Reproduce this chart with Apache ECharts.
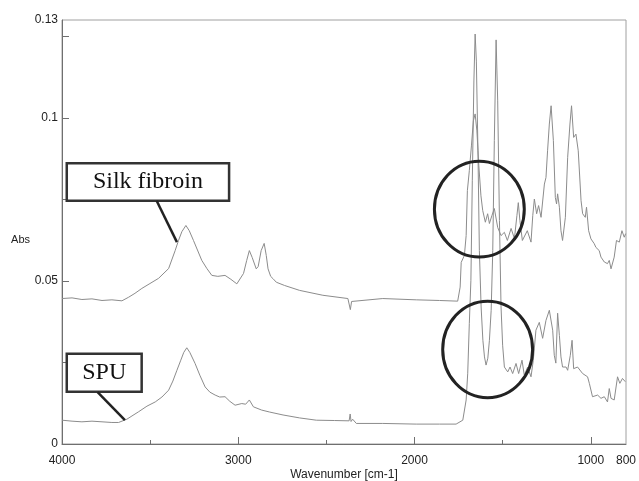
<!DOCTYPE html>
<html>
<head>
<meta charset="utf-8">
<script src="https://cdn.jsdelivr.net/npm/echarts@6/dist/echarts.min.js"></script>
<style>html,body{margin:0;padding:0;background:#fff}#c{width:639px;height:481px}</style>
</head>
<body>
<div id="c"></div>
<script>
// ---- data ----
var silkWn = [4000,3943,3887,3830,3773,3717,3660,3622,3586,3547,3501,3452,3395,3358,3339,3320,3297,3278,3254,3207,3178,3150,3116,3075,3042,3008,2970,2952,2937,2921,2898,2887,2870,2853,2841,2831,2816,2803,2784,2737,2652,2520,2378,2364,2357,2346,2180,1990,1858,1755,1741,1735,1726,1717,1707,1700,1689,1677,1666,1656,1646,1635,1623,1613,1598,1585,1575,1561,1547,1528,1509,1490,1473,1452,1433,1419,1411,1402,1388,1360,1339,1329,1320,1307,1296,1282,1263,1254,1245,1235,1225,1212,1201,1194,1188,1178,1169,1160,1144,1131,1118,1109,1097,1084,1071,1055,1046,1031,1024,1012,999,980,971,952,942,923,905,895,885,867,854,838,823,810,802];
var silkAbs = [0.0446,0.0448,0.0443,0.0445,0.0440,0.0442,0.0439,0.0450,0.0462,0.0477,0.0492,0.0508,0.0538,0.0593,0.0624,0.0651,0.0670,0.0654,0.0624,0.0563,0.0538,0.0517,0.0514,0.0517,0.0505,0.0491,0.0523,0.0563,0.0593,0.0572,0.0537,0.0544,0.0593,0.0615,0.0578,0.0537,0.0514,0.0507,0.0496,0.0486,0.0471,0.0456,0.0446,0.0412,0.0437,0.0443,0.0446,0.0442,0.0440,0.0438,0.0481,0.0557,0.0563,0.0578,0.0639,0.0777,0.0838,0.0914,0.0991,0.1012,0.0960,0.0853,0.0761,0.0716,0.0680,0.0706,0.0676,0.0700,0.0722,0.0664,0.0639,0.0649,0.0624,0.0661,0.0630,0.0700,0.0740,0.0685,0.0624,0.0654,0.0619,0.0700,0.0751,0.0706,0.0731,0.0695,0.0797,0.0817,0.0899,0.0981,0.1037,0.0930,0.0756,0.0736,0.0767,0.0726,0.0654,0.0624,0.0695,0.0879,0.0981,0.1037,0.0940,0.0950,0.0899,0.0746,0.0706,0.0695,0.0726,0.0654,0.0629,0.0614,0.0603,0.0593,0.0573,0.0558,0.0553,0.0563,0.0537,0.0573,0.0624,0.0619,0.0654,0.0634,0.0645];

var spuWn = [4000,3943,3887,3830,3773,3717,3679,3632,3603,3565,3518,3471,3433,3395,3371,3348,3326,3309,3292,3275,3245,3218,3188,3161,3131,3105,3075,3048,3018,2980,2958,2937,2914,2867,2822,2746,2652,2557,2453,2371,2365,2360,2351,2343,2330,2180,1990,1858,1764,1726,1707,1698,1689,1680,1672,1663,1656,1649,1640,1632,1622,1612,1603,1594,1584,1575,1565,1556,1547,1537,1528,1518,1509,1500,1490,1471,1458,1443,1424,1409,1390,1377,1358,1339,1326,1311,1292,1273,1254,1235,1216,1207,1198,1188,1178,1169,1160,1140,1131,1116,1106,1097,1075,1046,1018,1008,990,961,942,923,905,895,885,867,848,835,820,804];
var spuAbs = [0.0073,0.0070,0.0068,0.0070,0.0068,0.0066,0.0066,0.0076,0.0086,0.0099,0.0116,0.0129,0.0144,0.0165,0.0193,0.0226,0.0257,0.0281,0.0295,0.0281,0.0247,0.0211,0.0175,0.0159,0.0150,0.0144,0.0145,0.0131,0.0119,0.0124,0.0122,0.0135,0.0114,0.0104,0.0098,0.0089,0.0080,0.0073,0.0072,0.0071,0.0092,0.0069,0.0076,0.0070,0.0063,0.0063,0.0061,0.0061,0.0061,0.0073,0.0135,0.0217,0.0370,0.0502,0.0807,0.1113,0.1257,0.1174,0.0899,0.0593,0.0420,0.0318,0.0267,0.0242,0.0263,0.0318,0.0410,0.0593,0.0930,0.1239,0.1052,0.0685,0.0420,0.0303,0.0236,0.0221,0.0236,0.0216,0.0247,0.0216,0.0257,0.0211,0.0236,0.0206,0.0257,0.0349,0.0373,0.0324,0.0379,0.0410,0.0349,0.0272,0.0248,0.0401,0.0333,0.0267,0.0236,0.0236,0.0226,0.0272,0.0318,0.0231,0.0236,0.0216,0.0206,0.0186,0.0145,0.0150,0.0140,0.0145,0.0129,0.0170,0.0140,0.0135,0.0206,0.0186,0.0201,0.0191];

var xLabelValues = [4000,3000,2000,1000,800];
var xMajorTicks = [3000,2000,1000];
var xMinorTicks = [3500,2500,1500];
var yLabelValues = [0,0.05,0.1,0.13];
var yTicks = [0.025,0.05,0.075,0.1,0.125];

var labelSilk = 'Silk fibroin';
var labelSpu = 'SPU';
var yTitle = 'Abs';
var xTitle = 'Wavenumber [cm-1]';

function zip(a,b){var r=[];for(var i=0;i<a.length;i++)r.push([a[i],b[i]]);return r;}

var chart = echarts.init(document.getElementById('c'), null, {renderer:'canvas'});
var axisCol = '#6f6f6f';
var txt = {color:'#222', fontFamily:'Liberation Sans, Arial, sans-serif', fontSize:12};

chart.setOption({
  animation:false,
  backgroundColor:'#fff',
  grid:{left:62,right:13,top:20,bottom:37,outerBoundsMode:'none',containLabel:false,
        show:true,borderColor:'#a0a0a0',borderWidth:1,backgroundColor:'transparent'},
  xAxis:[{
    type:'value',min:800,max:4000,inverse:true,position:'bottom',
    axisLine:{show:true,lineStyle:{color:axisCol,width:1}},
    axisTick:{show:true,inside:true,length:7,customValues:xMajorTicks,lineStyle:{color:axisCol}},
    axisLabel:Object.assign({customValues:xLabelValues,margin:11,showMinLabel:true,showMaxLabel:true,
      formatter:function(v){return String(v);}},txt),
    splitLine:{show:false}
  },{
    type:'value',min:800,max:4000,inverse:true,position:'bottom',offset:0,
    axisLine:{show:false},
    axisTick:{show:true,inside:true,length:4,customValues:xMinorTicks,lineStyle:{color:axisCol}},
    axisLabel:{show:false},splitLine:{show:false}
  }],
  yAxis:{
    type:'value',min:0,max:0.13,
    axisLine:{show:true,lineStyle:{color:axisCol,width:1}},
    axisTick:{show:true,inside:true,length:7,customValues:yTicks,lineStyle:{color:axisCol}},
    axisLabel:Object.assign({customValues:yLabelValues,margin:4,showMinLabel:true,showMaxLabel:true,
      formatter:function(v){return String(v);}},txt),
    splitLine:{show:false}
  },
  series:[
    {name:labelSilk,type:'line',data:zip(silkWn,silkAbs),showSymbol:false,symbol:'none',lineStyle:{color:'#8c8c8c',width:1},z:2},
    {name:labelSpu,type:'line',data:zip(spuWn,spuAbs),showSymbol:false,symbol:'none',lineStyle:{color:'#8c8c8c',width:1},z:2}
  ]
});

// annotations anchored in data coordinates
function px(p){return chart.convertToPixel({gridIndex:0},p);}
var silkBoxA = px([3973,0.0861]), silkBoxB = px([3052,0.0746]);
var silkLeadA = px([3463,0.0746]), silkLeadB = px([3348,0.0619]);
var spuBoxA = px([3973,0.0277]), spuBoxB = px([3548,0.0160]);
var spuLeadA = px([3798,0.0159]), spuLeadB = px([3643,0.0073]);
var c1 = px([1632,0.0720]), c1e = px([1377,0.0867]);
var c2 = px([1585,0.0290]), c2e = px([1330,0.0438]);
var absPos = px([4000,0.0625]);
var xTitlePos = px([2400,0]);

function box(a,b,label){
  return [{type:'rect',shape:{x:a[0],y:a[1],width:b[0]-a[0],height:b[1]-a[1]},
           style:{fill:'#fff',stroke:'#333',lineWidth:2.5},z:10},
          {type:'text',x:(a[0]+b[0])/2,y:(a[1]+b[1])/2,
           style:{text:label,font:'24px "Liberation Serif", "Times New Roman", serif',fill:'#111',align:'center',verticalAlign:'middle'},z:11}];
}
var g = [];
g = g.concat(box(silkBoxA,silkBoxB,labelSilk));
g = g.concat(box(spuBoxA,spuBoxB,labelSpu));
g.push({type:'line',shape:{x1:silkLeadA[0],y1:silkLeadA[1],x2:silkLeadB[0],y2:silkLeadB[1]},style:{stroke:'#222',lineWidth:2.5},z:10});
g.push({type:'line',shape:{x1:spuLeadA[0],y1:spuLeadA[1],x2:spuLeadB[0],y2:spuLeadB[1]},style:{stroke:'#222',lineWidth:2.5},z:10});
g.push({type:'ellipse',shape:{cx:c1[0],cy:c1[1],rx:Math.abs(c1e[0]-c1[0]),ry:Math.abs(c1[1]-c1e[1])},style:{fill:'none',stroke:'#222',lineWidth:3},z:10});
g.push({type:'ellipse',shape:{cx:c2[0],cy:c2[1],rx:Math.abs(c2e[0]-c2[0]),ry:Math.abs(c2[1]-c2e[1])},style:{fill:'none',stroke:'#222',lineWidth:3},z:10});
g.push({type:'text',x:absPos[0]-32,y:absPos[1],style:{text:yTitle,font:'11px "Liberation Sans", Arial, sans-serif',fill:'#222',align:'right',verticalAlign:'middle'},z:11});
g.push({type:'text',x:xTitlePos[0],y:xTitlePos[1]+31,style:{text:xTitle,font:'12px "Liberation Sans", Arial, sans-serif',fill:'#222',align:'center',verticalAlign:'middle'},z:11});
chart.setOption({graphic:g});
</script>
</body>
</html>
